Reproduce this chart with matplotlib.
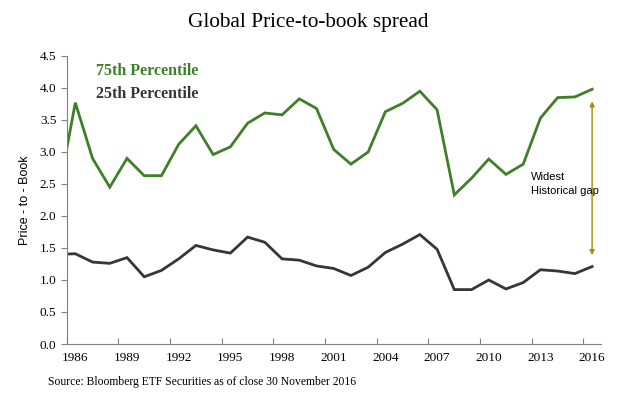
import numpy as np
import matplotlib
matplotlib.use("Agg")
import matplotlib.pyplot as plt

# yearly price-to-book values (1985 point is only partly shown)
years = np.arange(1985, 2017)
pct_75 = [2.33, 3.77, 2.90, 2.45, 2.90, 2.63, 2.63, 3.12, 3.41, 2.96, 3.08, 3.45, 3.61, 3.58, 3.83, 3.68,
          3.04, 2.81, 3.00, 3.63, 3.76, 3.95, 3.66, 2.33, 2.59, 2.89, 2.65, 2.81, 3.53, 3.85, 3.86, 3.98]
pct_25 = [1.40, 1.41, 1.28, 1.26, 1.35, 1.05, 1.15, 1.33, 1.54, 1.47, 1.42, 1.67, 1.59, 1.33, 1.31, 1.22,
          1.18, 1.07, 1.20, 1.43, 1.56, 1.71, 1.48, 0.85, 0.85, 1.00, 0.86, 0.96, 1.16, 1.14, 1.10, 1.21]
label_years = list(range(1986, 2017, 3))
gap_low, gap_high = 1.39, 3.79

green = "#3f7f27"
dark = "#363636"
gold = "#a38d00"
serif = ["Liberation Serif", "DejaVu Serif"]

fig = plt.figure(figsize=(6.2, 3.94), dpi=100)
ax = fig.add_axes([0.1076, 0.1269, 0.8613, 0.731])

ax.plot(years, pct_75, color=green, lw=2.0, solid_joinstyle="miter")
ax.plot(years, pct_25, color=dark, lw=2.0, solid_joinstyle="miter")

ax.set_xlim(1985.5, 2016.5)
ax.set_ylim(0, 4.5)

# ticks sit between the years, labels on the years
ax.set_xticks(np.arange(1985.5, 2016.6, 3))
ax.set_xticks(label_years, minor=True)
ax.set_xticklabels([])
ax.set_xticklabels([str(y) for y in label_years], minor=True, fontfamily=serif, fontsize=9.5)
ax.tick_params(axis="x", which="major", direction="in", length=4, color="#808080")
ax.tick_params(axis="x", which="minor", length=0, pad=6)

ax.set_yticks(np.arange(0, 4.51, 0.5))
ax.set_yticklabels([f"{v:.1f}" for v in np.arange(0, 4.51, 0.5)], fontfamily=serif, fontsize=9.5)
ax.tick_params(axis="y", direction="out", length=4, color="#808080")

for s in ["top", "right"]:
    ax.spines[s].set_visible(False)
for s in ["left", "bottom"]:
    ax.spines[s].set_color("#808080")

ax.set_ylabel("Price - to - Book", fontfamily="Liberation Sans", fontsize=9, labelpad=6)

fig.text(0.497, 0.944, "Global Price-to-book spread", ha="center", va="center",
         fontfamily=serif, fontsize=15.3)

ax.text(1987.2, 4.26, "75th Percentile", color=green, fontfamily=serif, fontsize=11.5,
        fontweight="bold", va="center")
ax.text(1987.2, 3.9, "25th Percentile", color=dark, fontfamily=serif, fontsize=11.5,
        fontweight="bold", va="center")

ax.annotate("", xy=(2016, gap_high), xytext=(2016, gap_low),
            arrowprops=dict(arrowstyle="<|-|>", color=gold, lw=1.0,
                            mutation_scale=7, shrinkA=0, shrinkB=0))
ax.text(2012.45, 2.5, "Widest\nHistorical gap", fontfamily="Liberation Sans", fontsize=8,
        va="center", ha="left", linespacing=1.5)

fig.text(0.077, 0.03, "Source: Bloomberg ETF Securities as of close 30 November 2016",
         fontfamily=serif, fontsize=8.4, va="center")

fig.savefig("out.png", dpi=100)
